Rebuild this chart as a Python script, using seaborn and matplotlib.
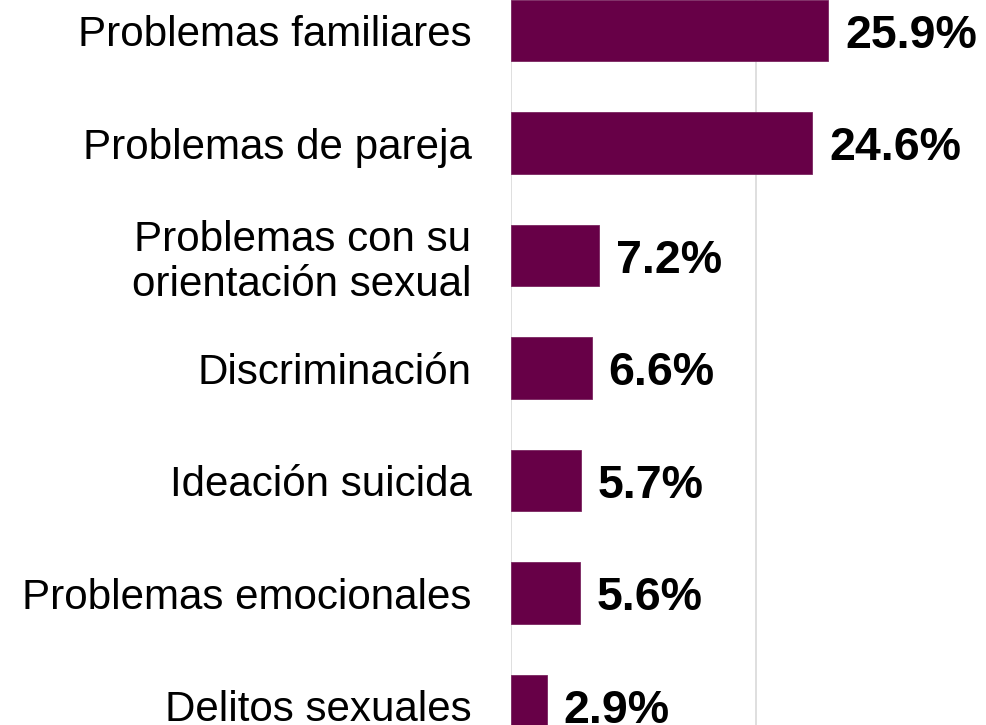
import matplotlib
matplotlib.use("Agg")
import matplotlib.pyplot as plt
import seaborn as sns
import pandas as pd

categories = [
    "Problemas familiares",
    "Problemas de pareja",
    "Problemas con su\norientación sexual",
    "Discriminación",
    "Ideación suicida",
    "Problemas emocionales",
    "Delitos sexuales",
]
values = [25.9, 24.6, 7.2, 6.6, 5.7, 5.6, 2.9]
value_labels = [f"{v}%" for v in values]

sns.set_theme(style="white")
plt.rcParams["font.family"] = ["Liberation Sans", "DejaVu Sans"]

W, H = 986, 725
fig = plt.figure(figsize=(W / 100, H / 100), dpi=100)

# axes placement in pixels (partly outside the canvas, as in the cropped reference)
left_px, right_px = 511, 986
top_px, bottom_px = -25.75, 761.75
ax = fig.add_axes([left_px / W, 1 - bottom_px / H,
                   (right_px - left_px) / W, (bottom_px - top_px) / H])

df = pd.DataFrame({"cat": categories, "val": values})
sns.barplot(data=df, x="val", y="cat", orient="h", color="#670047",
            saturation=1, width=0.55, ax=ax, edgecolor="#7a2560", linewidth=0.6)

ax.set_xlim(0, (right_px - left_px) / 12.25)
ax.set_ylim(len(categories) - 0.5, -0.5)
ax.set_xticks([0, 20])
ax.set_xticklabels([])
ax.set_axisbelow(True)
ax.grid(axis="x", color="#d9d9d9", linewidth=1.2)
ax.grid(axis="y", visible=False)
ax.tick_params(axis="both", length=0)
ax.tick_params(axis="y", pad=28.5, labelsize=30.3, labelcolor="black")
for lbl in ax.get_yticklabels():
    lbl.set_horizontalalignment("right")
    lbl.set_multialignment("right")
    lbl.set_linespacing(1.17)
for s in ax.spines.values():
    s.set_visible(False)
ax.set_xlabel("")
ax.set_ylabel("")

texts = ax.bar_label(ax.containers[0], labels=value_labels, padding=12,
                     fontsize=33.5, fontweight="bold", color="black")
for t in texts:
    t.set_verticalalignment("center_baseline")

fig.savefig("out.png", dpi=100)
